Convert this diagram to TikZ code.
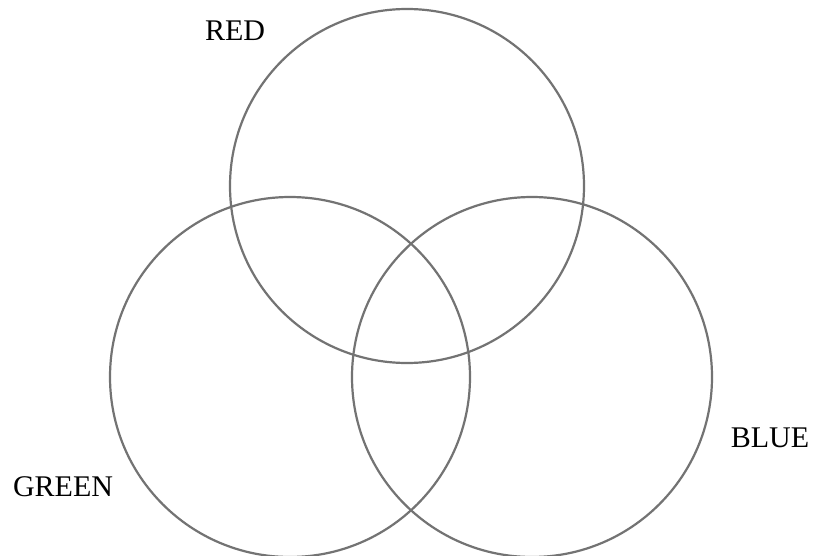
\documentclass[tikz,border=0pt]{standalone}
\usepackage{fontspec}
\setmainfont{Liberation Serif}
\usetikzlibrary{positioning}

\begin{document}
\begin{tikzpicture}[
    x=0.5pt, y=-0.5pt,
    ring/.style={draw=black!55, line width=1.1pt, circle, inner sep=0pt, outer sep=0pt},
    setlabel/.style={font=\fontsize{15}{18}\selectfont, inner sep=0pt},
]
\clip (0,0) rectangle (813,556);
\fill[white] (0,0) rectangle (813,556);

% Sets
\node[ring, minimum size=177pt] (red) at (407,186) {};
\node[ring, minimum size=180pt] (green) at (290,377) {};
\node[ring, minimum size=180pt] (blue) at (532,377) {};

% Labels
\node[setlabel] (redlab) at (235,31) {RED};
\node[setlabel] (greenlab) at (63,487) {GREEN};
\node[setlabel] (bluelab) at (770,438) {BLUE};

\end{tikzpicture}
\end{document}
